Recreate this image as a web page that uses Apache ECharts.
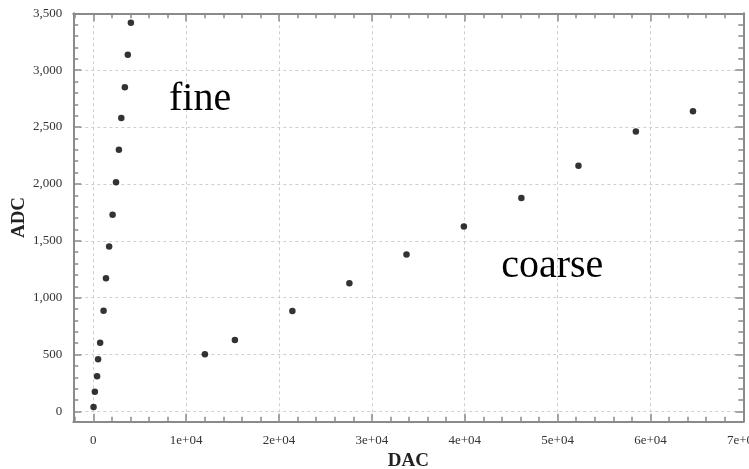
<!DOCTYPE html>
<html>
<head>
<meta charset="utf-8">
<script src="https://cdn.jsdelivr.net/npm/echarts@6/dist/echarts.min.js"></script>
<style>
  html, body { margin: 0; padding: 0; background: #fff; }
  #chart { width: 749px; height: 469px; }
</style>
</head>
<body>
<div id="chart"></div>
<script>
// Fine-range calibration points (DAC -> ADC)
const fineDac = [30, 170, 410, 520, 740, 1110, 1370, 1710, 2080, 2450, 2760, 3020, 3400, 3720, 4050];
const fineAdc = [39, 173, 310, 458, 603, 885, 1170, 1450, 1730, 2015, 2300, 2580, 2850, 3135, 3417];

// Coarse-range calibration points (DAC -> ADC)
const coarseDac = [12020, 15250, 21440, 27580, 33730, 39910, 46100, 52250, 58430, 64580];
const coarseAdc = [503, 628, 884, 1128, 1380, 1625, 1877, 2159, 2460, 2638];

// Major tick values and their labels
const xMajor = [0, 10000, 20000, 30000, 40000, 50000, 60000, 70000];
const xTickLabels = ['0', '1e+04', '2e+04', '3e+04', '4e+04', '5e+04', '6e+04', '7e+04'];
const yMajor = [0, 500, 1000, 1500, 2000, 2500, 3000, 3500];
const yTickLabels = ['0', '500', '1,000', '1,500', '2,000', '2,500', '3,000', '3,500'];

// Axis extents
const X_MIN = -2150, X_MAX = 70000;
const Y_MIN = -90, Y_MAX = 3500;

// Minor tick positions (every 2000 on x, every 100 on y)
const xMinor = [];
for (let v = -2000; v <= X_MAX; v += 2000) xMinor.push(v);
const yMinor = [];
for (let v = 0; v <= Y_MAX; v += 100) yMinor.push(v);

const SERIF = '"Liberation Serif", "DejaVu Serif", serif';
const FRAME = '#8a8a8a';
const LABEL_COLOR = '#333';

function xAxisDef(position, major, withLabels) {
  return {
    type: 'value', position: position, min: X_MIN, max: X_MAX,
    axisLine: { show: major, onZero: false, lineStyle: { color: FRAME, width: 2 } },
    axisTick: {
      show: true, inside: true, length: major ? 8 : 5,
      customValues: major ? xMajor : xMinor,
      lineStyle: { color: FRAME, width: 1.5 }
    },
    axisLabel: withLabels ? {
      show: true, customValues: xMajor, margin: 12,
      fontFamily: SERIF, fontSize: 13, color: LABEL_COLOR,
      formatter: v => xTickLabels[xMajor.indexOf(v)] ?? ''
    } : { show: false },
    splitLine: withLabels ? {
      show: true, lineStyle: { color: '#cfcfcf', width: 1, type: [3, 3] }
    } : { show: false },
    name: withLabels ? 'DAC' : '',
    nameLocation: 'middle', nameGap: 30, nameMoveOverlap: false,
    nameTextStyle: { fontFamily: SERIF, fontSize: 19, fontWeight: 'bold', color: '#222' }
  };
}

function yAxisDef(position, major, withLabels) {
  return {
    type: 'value', position: position, min: Y_MIN, max: Y_MAX,
    axisLine: { show: major, onZero: false, lineStyle: { color: FRAME, width: 2 } },
    axisTick: {
      show: true, inside: true, length: major ? 8 : 5,
      customValues: major ? yMajor : yMinor,
      lineStyle: { color: FRAME, width: 1.5 }
    },
    axisLabel: withLabels ? {
      show: true, customValues: yMajor, margin: 11,
      fontFamily: SERIF, fontSize: 13, color: LABEL_COLOR,
      formatter: v => yTickLabels[yMajor.indexOf(v)] ?? ''
    } : { show: false },
    splitLine: withLabels ? {
      show: true, lineStyle: { color: '#cfcfcf', width: 1, type: [3, 3] }
    } : { show: false },
    name: withLabels ? 'ADC' : '',
    nameLocation: 'middle', nameGap: 45, nameRotate: 90, nameMoveOverlap: false,
    nameTextStyle: { fontFamily: SERIF, fontSize: 19, fontWeight: 'bold', color: '#222' }
  };
}

function zip(xs, ys) { return xs.map((x, i) => [x, ys[i]]); }

const noteStyle = { fontFamily: SERIF, fontSize: 40, color: '#000' };

const chart = echarts.init(document.getElementById('chart'), null, { renderer: 'canvas' });
chart.setOption({
  backgroundColor: '#fff',
  animation: false,
  grid: {
    left: 73.3, right: 5.7, top: 13.3, bottom: 47.3,
    containLabel: false, outerBoundsMode: 'none'
  },
  xAxis: [
    xAxisDef('bottom', true, true),
    xAxisDef('bottom', false, false),
    xAxisDef('top', true, false),
    xAxisDef('top', false, false)
  ],
  yAxis: [
    yAxisDef('left', true, true),
    yAxisDef('left', false, false),
    yAxisDef('right', true, false),
    yAxisDef('right', false, false)
  ],
  series: [
    {
      name: 'fine', type: 'scatter', xAxisIndex: 0, yAxisIndex: 0,
      data: zip(fineDac, fineAdc), symbolSize: 6.5,
      itemStyle: { color: '#000' },
      markPoint: {
        symbol: 'circle', symbolSize: 0,
        data: [{ coord: [11500, 2742] }],
        label: Object.assign({ show: true, position: 'inside', formatter: 'fine' }, noteStyle)
      }
    },
    {
      name: 'coarse', type: 'scatter', xAxisIndex: 0, yAxisIndex: 0,
      data: zip(coarseDac, coarseAdc), symbolSize: 6.5,
      itemStyle: { color: '#000' },
      markPoint: {
        symbol: 'circle', symbolSize: 0,
        data: [{ coord: [49430, 1273] }],
        label: Object.assign({ show: true, position: 'inside', formatter: 'coarse' }, noteStyle)
      }
    }
  ]
});
</script>
</body>
</html>
